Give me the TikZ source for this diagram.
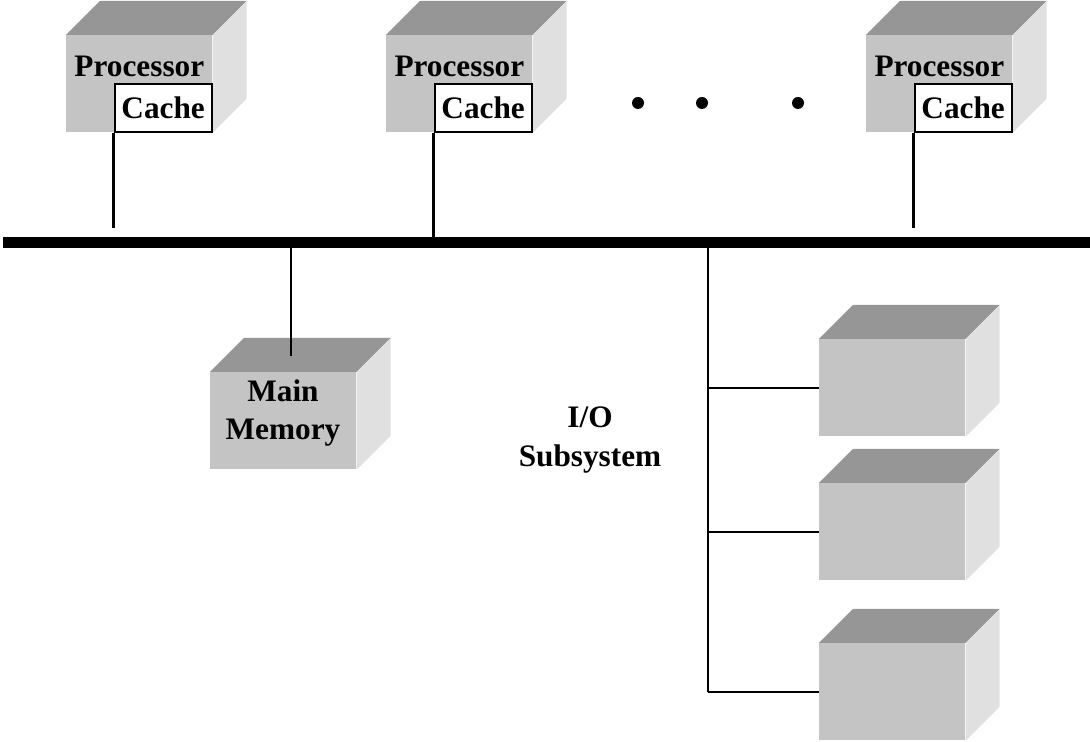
\documentclass[tikz,border=0pt]{standalone}
\usepackage{fontspec}
\setmainfont{Liberation Serif}
\usetikzlibrary{calc}

\definecolor{frontgray}{HTML}{C4C4C4}
\definecolor{topgray}{HTML}{969696}
\definecolor{sidegray}{HTML}{E0E0E0}

% one grey block: front face node #1 with north west corner at #2
\newcommand{\Block}[2]{%
   \node[front] (#1) at (#2) {};
   \fill[topgray] (#1.north west) -- ++(\dep,-\dep) -- ($(#1.north east)+(\dep,-\dep)$) -- (#1.north east) -- cycle;
   \fill[sidegray] (#1.north east) -- ++(\dep,-\dep) -- ($(#1.south east)+(\dep,-\dep)$) -- (#1.south east) -- cycle;
}

\begin{document}
\begin{tikzpicture}[x=0.02cm,y=-0.02cm]
\def \dep {34}
\useasboundingbox (0,0) rectangle (1090,742);
   \tikzset{front/.style = {fill = frontgray, anchor = north west, minimum width = 2.92cm, minimum height = 1.94cm, inner sep = 0pt}}
   \tikzset{lbl/.style = {font = \fontsize{17.8}{21.8}\selectfont\bfseries, inner sep = 0pt, anchor = base}}
   \tikzset{cachebox/.style = {lbl, draw, fill = white, line width = 1.2pt, anchor = south east, minimum width = 1.94cm, minimum height = 0.96cm}}
   \tikzset{wire/.style = {line width = 1.4pt}}
   \tikzset{dot/.style = {circle, fill = black, minimum size = 0.24cm, inner sep = 0pt}}

% processors
   \Block{p1}{66,35}
   \Block{p2}{386,35}
   \Block{p3}{866,35}
   \node[lbl] (pl1) at ($(p1.north)+(0,42)$) {Processor};
   \node[lbl] (pl2) at ($(p2.north)+(0,42)$) {Processor};
   \node[lbl] (pl3) at ($(p3.north)+(0,42)$) {Processor};
   \node[cachebox] (c1) at (p1.south east) {Cache};
   \node[cachebox] (c2) at (p2.south east) {Cache};
   \node[cachebox] (c3) at (p3.south east) {Cache};

   \node[dot] (d1) at (638,103) {};
   \node[dot] (d2) at (702,103) {};
   \node[dot] (d3) at (798,103) {};

% bus
   \coordinate (busL) at (3,243);
   \coordinate (busR) at (1090,243);
   \draw[line width = 0.22cm] (busL) -- (busR);
   \coordinate (t1) at (116,228);
   \coordinate (t3) at (916,228);
   \draw[wire] (c1.south west) -- (c1.south west |- t1);
   \draw[wire] (c2.south west) -- (c2.south west |- busL);
   \draw[wire] (c3.south west) -- (c3.south west |- t3);

% memory
   \Block{mm}{210,372}
   \node[lbl] (ml1) at (283,402) {Main};
   \node[lbl] (ml2) at (283,440) {Memory};
   \coordinate (m0) at (291,243);
   \coordinate (m1) at (291,356);
   \draw[wire] (m0) -- (m1);

% I/O
   \Block{io1}{819,339}
   \Block{io2}{819,483}
   \Block{io3}{819,643}
   \node[lbl] (il1) at (590,428) {I/O};
   \node[lbl] (il2) at (590,467) {Subsystem};
   \coordinate (io0) at (708,243);
   \draw[wire] (io0) -- (io0 |- io3.west);
   \draw[wire] (io0 |- io1.west) -- (io1.west);
   \draw[wire] (io0 |- io2.west) -- (io2.west);
   \draw[wire] (io0 |- io3.west) -- (io3.west);
\end{tikzpicture}
\end{document}
